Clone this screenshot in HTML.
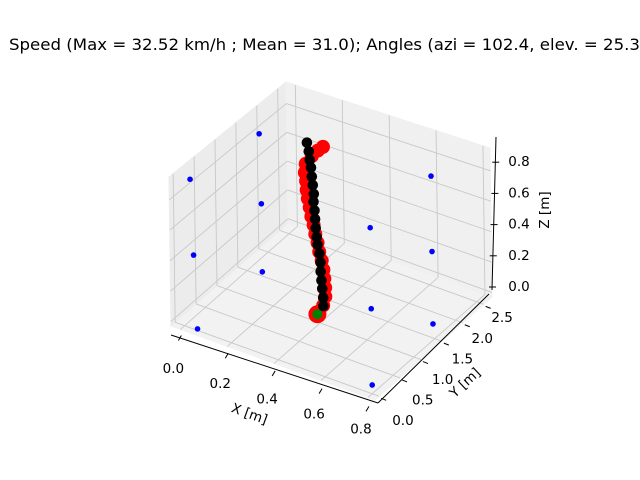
<!DOCTYPE html>
<html><head><meta charset="utf-8"><style>
html,body{margin:0;padding:0;background:#fff;}
svg{display:block;font-family:"DejaVu Sans","Liberation Sans",sans-serif;}
</style></head><body>
<svg id="chart" width="640" height="480" viewBox="0 0 640 480" xmlns="http://www.w3.org/2000/svg">
<rect width="640" height="480" fill="#fff"/>
<text x="9" y="50" font-size="16" textLength="631" lengthAdjust="spacingAndGlyphs">Speed (Max = 32.52 km/h ; Mean = 31.0); Angles (azi = 102.4, elev. = 25.3</text>
<g id="panes"></g><g id="grid"></g><g id="axes"></g><g id="marks"></g>
<text transform="translate(248,418) rotate(20)" text-anchor="middle" font-size="13.5">X [m]</text>
<text transform="translate(468,386) rotate(-43)" text-anchor="middle" font-size="13.5">Y [m]</text>
<text transform="translate(549,210) rotate(-90)" text-anchor="middle" font-size="13.5">Z [m]</text>
</svg>
<script>
const xTicks=[0,0.2,0.4,0.6,0.8];
const yTicks=[0,0.5,1.0,1.5,2.0,2.5];
const zTicks=[0,0.2,0.4,0.6,0.8];
const xTickLabels=["0.0","0.2","0.4","0.6","0.8"];
const yTickLabels=["0.0","0.5","1.0","1.5","2.0","2.5"];
const zTickLabels=["0.0","0.2","0.4","0.6","0.8"];
const blackX=[0.357,0.346,0.335,0.323,0.311,0.300,0.289,0.278,0.267,0.256,0.243,0.232,0.221,0.210,0.199,0.188,0.176,0.164,0.153,0.142];
const blackY=[1.32,1.38,1.42,1.47,1.52,1.58,1.62,1.64,1.68,1.72,1.78,1.83,1.87,1.94,1.98,2.02,2.07,2.11,2.15,2.17];
const blackZ=[-0.02,0.014,0.058,0.094,0.134,0.174,0.217,0.265,0.301,0.345,0.384,0.424,0.467,0.497,0.541,0.583,0.626,0.662,0.705,0.754];
const redX=[0.367,0.356,0.344,0.333,0.321,0.310,0.298,0.286,0.274,0.263,0.251,0.240,0.228,0.217,0.205,0.194,0.182,0.170,0.160,0.152,0.147];
const redY=[1.12,1.32,1.44,1.50,1.55,1.59,1.62,1.63,1.66,1.67,1.70,1.71,1.74,1.76,1.80,1.85,1.89,1.98,2.18,2.37,2.52];
const redZ=[-0.02,-0.017,0.006,0.044,0.086,0.129,0.176,0.225,0.272,0.321,0.368,0.417,0.464,0.512,0.554,0.597,0.638,0.670,0.669,0.658,0.645];
const blueX=[0.05,0.05,0.05,0.05,0.05,0.05,0.77,0.77,0.77,0.744,0.744,0.744];
const blueY=[-0.1,1.55,-0.04,1.58,0.03,1.58,0.17,0.17,0.17,1.77,1.77,1.77];
const blueZ=[0.98,0.91,0.47,0.43,-0.03,-0.03,-0.03,0.45,0.96,-0.03,0.44,0.93];
const startX=[0.367], startY=[1.12], startZ=[-0.02];

const X0=-0.04,X1=0.83,Y0=-0.1,Y1=2.7,Z0=-0.03,Z1=0.95;
const O=[171,326],EX=[204,74],EY=[117,-103];
function P(x,y,z){const u=(x-X0)/(X1-X0),v=(y-Y0)/(Y1-Y0),w=(z-Z0)/(Z1-Z0);
 const h=149-8*v+8*u;
 return [O[0]+u*EX[0]+v*EY[0]-2*w,O[1]+u*EX[1]+v*EY[1]-h*w];}
const NS="http://www.w3.org/2000/svg";
function el(tag,attrs,parent){const e=document.createElementNS(NS,tag);for(const k in attrs)e.setAttribute(k,attrs[k]);parent.appendChild(e);return e;}
function pts(a){return a.map(p=>p[0].toFixed(1)+","+p[1].toFixed(1)).join(" ");}
const panes=document.getElementById('panes'),grid=document.getElementById('grid'),axes=document.getElementById('axes'),marks=document.getElementById('marks');
let e;
e=el('polygon',{points:pts([P(X0,Y0,Z0),P(X1,Y0,Z0),P(X1,Y1,Z0),P(X0,Y1,Z0)]),fill:'#f2f2f2',stroke:'#f2f2f2'},panes);


e=el('polygon',{points:pts([P(X0,Y0,Z0),P(X0,Y1,Z0),P(X0,Y1,Z1),P(X0,Y0,Z1)]),fill:'#ececec',stroke:'#ececec'},panes);


e=el('polygon',{points:pts([P(X0,Y1,Z0),P(X1,Y1,Z0),P(X1,Y1,Z1),P(X0,Y1,Z1)]),fill:'#f0f0f0',stroke:'#f0f0f0'},panes);


function gl(a,b,name){const l=el('line',{x1:a[0],y1:a[1],x2:b[0],y2:b[1],stroke:'#c8c8c8','stroke-width':0.9},grid);
 
 }
xTicks.forEach(x=>{gl(P(x,Y0,Z0),P(x,Y1,Z0),'x-grid-line');gl(P(x,Y1,Z0),P(x,Y1,Z1),'x-grid-line');});
yTicks.forEach(y=>{gl(P(X0,y,Z0),P(X1,y,Z0),'y-grid-line');gl(P(X0,y,Z0),P(X0,y,Z1),'y-grid-line');});
zTicks.forEach(z=>{gl(P(X0,Y0,z),P(X0,Y1,z),'z-grid-line');gl(P(X0,Y1,z),P(X1,Y1,z),'z-grid-line');});
function al(a,b,name){const l=el('line',{x1:a[0],y1:a[1],x2:b[0],y2:b[1],stroke:'#000','stroke-width':1},axes);
 
 }
let a=P(X0,Y0,Z0),b=P(X1,Y0,Z0);al([a[0],a[1]+9],[b[0]+3,b[1]+3],'x-axis-line');
a=P(X1,Y0,Z0);b=P(X1,Y1,Z0);al([a[0]+3,a[1]+3],[b[0]-3,b[1]-3],'y-axis-line');
al([492,290],[496,137],'z-axis-line');
function txt(x,y,s,name){const t=el('text',{x:x,y:y,'font-size':13.5,'text-anchor':'middle','dominant-baseline':'central'},axes);t.textContent=s;
 
 }
xTicks.forEach((x,i)=>{const p=P(x,Y0,Z0);const f=(x-X0)/(X1-X0);const q=[p[0]+1,p[1]+9+(1-f)*-3];
 al(q,[q[0]-3,q[1]+5],'x-tick');
 txt(p[0]-7,p[1]+40-f*8,xTickLabels[i],'x-tick-label');});
yTicks.forEach((y,i)=>{const p=P(X1,y,Z0);const f=(y-Y0)/(Y1-Y0);
 al([p[0]+2,p[1]+2],[p[0]+7,p[1]+4],'y-tick');
 txt(p[0]+24-f*6,p[1]+25-f*12,yTickLabels[i],'y-tick-label');});
zTicks.forEach((z,i)=>{const yy=287-z*156;const xx=492+z*4;
 al([xx-3,yy],[xx+4,yy],'z-tick');
 txt(519,yy,zTickLabels[i],'z-tick-label');});
blueX.forEach((x,i)=>{const p=P(x,blueY[i],blueZ[i]);const c=el('circle',{cx:p[0],cy:p[1],r:2.8,fill:'#0000ff'},marks);
 
 });
redX.forEach((x,i)=>{const p=P(x,redY[i],redZ[i]);const c=el('circle',{cx:p[0],cy:p[1],r:i===0?9:7,fill:'#ff0000'},marks);
 
 });
blackX.forEach((x,i)=>{const p=P(x,blackY[i],blackZ[i]);const c=el('circle',{cx:p[0],cy:p[1],r:5.3,fill:'#000'},marks);
 
 });
startX.forEach((x,i)=>{const p=P(x,startY[i],startZ[i]);const c=el('circle',{cx:p[0],cy:p[1],r:5,fill:'#008000'},marks);
 
 });
</script>
</body></html>
